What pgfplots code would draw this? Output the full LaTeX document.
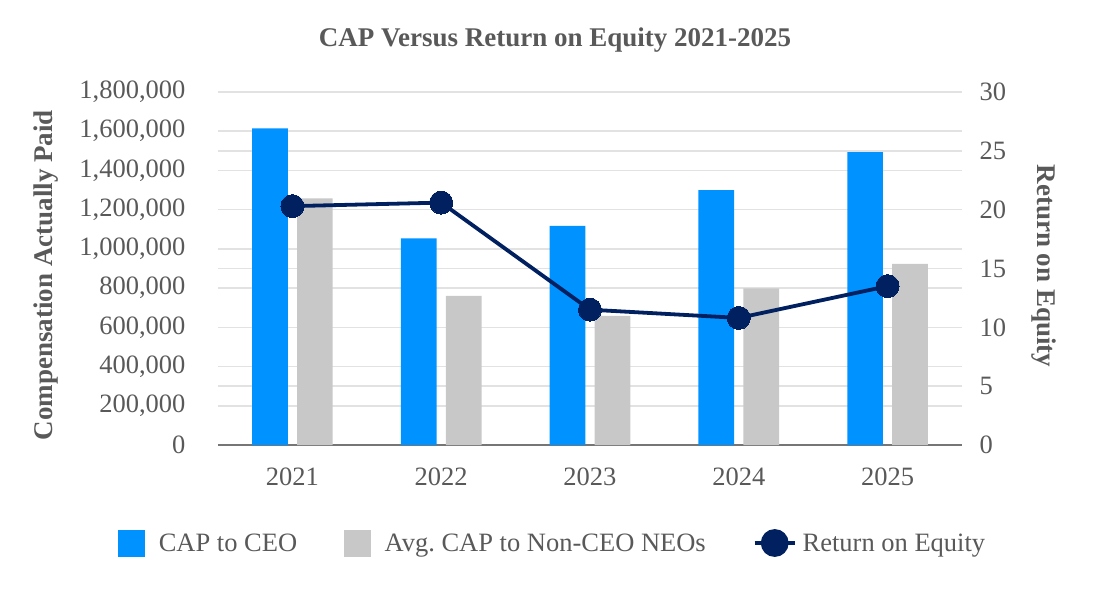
\documentclass[border=0pt]{standalone}
\usepackage{fontspec}
\setmainfont{Liberation Serif}
\usepackage{pgfplots}
\pgfplotsset{compat=1.18}
\frenchspacing
\definecolor{ceoblue}{RGB}{0,146,255}
\definecolor{neogray}{RGB}{200,200,200}
\definecolor{roenavy}{RGB}{0,32,96}
\definecolor{txtgray}{RGB}{89,89,89}
\definecolor{gridgray}{RGB}{226,226,226}
\definecolor{axgray}{RGB}{118,118,118}
\begin{document}
\begin{tikzpicture}[x=1pt,y=1pt]
\path[use as bounding box] (-218,-155) rectangle (882,445);
\begin{axis}[
  at={(0,0)}, anchor=south west,
  scale only axis, width=744pt, height=353pt,
  xmin=-0.5, xmax=4.5, ymin=0, ymax=1800000,
  xtick={0,1,2,3,4}, xticklabels={2021,2022,2023,2024,2025},
  ytick={0,200000,...,1800000},
  scaled y ticks=false,
  /pgf/number format/fixed,
  /pgf/number format/1000 sep={,},
  /pgf/number format/assume math mode=true,
  ticklabel style={font=\fontsize{26.5}{26.5}\selectfont, text=txtgray},
  xticklabel style={yshift=-19pt},
  yticklabel style={xshift=-29pt},
  major tick length=0,
  ymajorgrids, grid style={gridgray, line width=1.5pt},
  extra y ticks={300000,900000,1500000}, extra y tick labels={},
  extra y tick style={grid=major},
  separate axis lines,
  axis x line*=bottom,
  x axis line style={axgray, line width=2pt, -},
  y axis line style={draw=none},
  clip=false,
]
\addplot[ybar, bar width=0.24, bar shift=-0.151, fill=ceoblue, draw=none]
  coordinates {(0,1615000) (1,1054000) (2,1117000) (3,1300000) (4,1494000)};
\addplot[ybar, bar width=0.24, bar shift=0.151, fill=neogray, draw=none]
  coordinates {(0,1258000) (1,760000) (2,658000) (3,799000) (4,923000)};
\end{axis}
\begin{axis}[
  at={(0,0)}, anchor=south west,
  scale only axis, width=744pt, height=353pt,
  xmin=-0.5, xmax=4.5, ymin=0, ymax=30,
  xtick=\empty,
  ytick={0,5,...,30},
  /pgf/number format/assume math mode=true,
  ticklabel style={font=\fontsize{26.5}{26.5}\selectfont, text=txtgray},
  yticklabel style={xshift=14pt},
  major tick length=0,
  axis x line=none,
  axis y line*=right,
  y axis line style={draw=none},
  clip=false,
  legend columns=3,
  legend style={at={(0.450,-0.2776)}, anchor=center, draw=none, fill=none,
    font=\fontsize{26.5}{26.5}\selectfont, text=txtgray,
    /tikz/every even column/.append style={column sep=45pt}},
]
\addlegendimage{legend image code/.code={\fill[ceoblue] (0pt,-13pt) rectangle (26pt,13pt); \path (38pt,0pt);}}
\addlegendentry{CAP to CEO}
\addlegendimage{legend image code/.code={\fill[neogray] (0pt,-13pt) rectangle (26pt,13pt); \path (38pt,0pt);}}
\addlegendentry{Avg.\ CAP to Non-CEO NEOs}
\addplot[roenavy, line width=3.8pt, mark=*, mark size=11.5pt,
  mark options={solid, fill=roenavy, draw=roenavy, line width=0pt},
  legend image code/.code={\draw[roenavy, line width=3.8pt] (0pt,0pt) -- (40pt,0pt); \fill[roenavy] (20pt,0pt) circle (12pt); \path (44pt,0pt);}]
  coordinates {(0,20.3) (1,20.6) (2,11.5) (3,10.8) (4,13.5)};
\addlegendentry{Return on Equity}
\end{axis}
\node[font=\bfseries\fontsize{27}{27}\selectfont, text=txtgray] at (337,405) {CAP Versus Return on Equity 2021-2025};
\node[font=\bfseries\fontsize{27}{27}\selectfont, text=txtgray, rotate=90] at (-172,170) {Compensation Actually Paid};
\node[font=\bfseries\fontsize{27}{27}\selectfont, text=txtgray, rotate=-90] at (826,179) {Return on Equity};
\end{tikzpicture}
\end{document}
